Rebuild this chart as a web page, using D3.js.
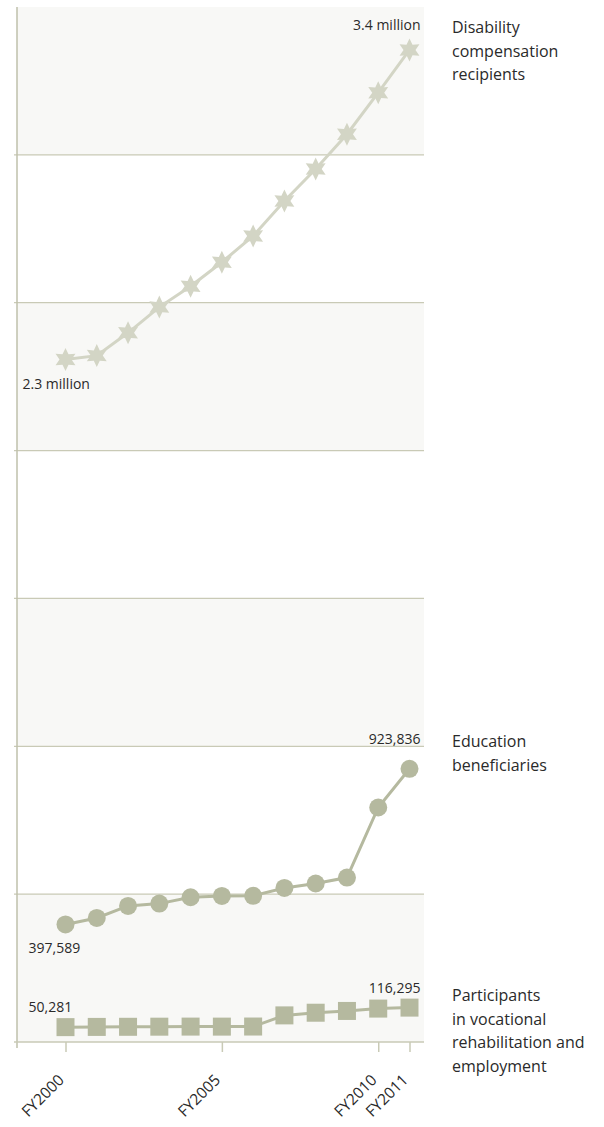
<!DOCTYPE html>
<html>
<head>
<meta charset="utf-8">
<script src="https://cdn.jsdelivr.net/npm/d3@7"></script>
<style>
  body { margin: 0; background: #fff; }
  text { font-family: 'Open Sans', sans-serif; fill: #2a2a2a; }
</style>
</head>
<body>
<div id="chart"></div>
<script>
var years = [2000, 2001, 2002, 2003, 2004, 2005, 2006, 2007, 2008, 2009, 2010, 2011]
var tickYears = [2000, 2005, 2010, 2011]

var compensation = [2308186, 2321103, 2398287, 2485229, 2555696, 2636979, 2725824, 2844178, 2952285, 3069652, 3210261, 3354741]
var education = [397589, 419500, 460000, 468000, 489500, 494000, 494500, 521000, 536000, 556000, 793000, 923836]
var vocational = [50281, 51000, 51400, 51800, 52100, 52000, 52300, 90000, 99000, 105000, 113000, 116295]

var gridValues = [500000, 1000000, 1500000, 2000000, 2500000, 3000000]
var bandStarts = [0, 1000000, 2000000, 3000000]

var margin = { top: 7, left: 17, right: 180, bottom: 85 }
var width = 604 - margin.left - margin.right
var height = 1127 - margin.top - margin.bottom

var svg = d3
  .select('#chart')
  .append('svg')
  .attr('width', width + margin.left + margin.right)
  .attr('height', height + margin.top + margin.bottom)
  .append('g')
  .attr('transform', 'translate(' + margin.left + ',' + margin.top + ')')

var xScale = d3.scaleLinear().domain([2000, 2011]).range([48.5, 392.5])
var yScale = d3.scaleLinear().domain([0, 3500000]).range([height, 0])

var gridColor = '#c9cab6'
var lightColor = '#d3d5c5'
var darkColor = '#b5b99f'

// shaded bands
svg
  .selectAll('.band')
  .data(bandStarts)
  .enter()
  .append('rect')
  .attr('class', 'band')
  .attr('x', 0)
  .attr('width', width)
  .attr('y', d => yScale(d + 500000))
  .attr('height', d => yScale(d) - yScale(d + 500000))
  .attr('fill', '#f8f8f6')

// gridlines
svg
  .selectAll('.grid')
  .data(gridValues)
  .enter()
  .append('line')
  .attr('class', 'grid')
  .attr('x1', -3)
  .attr('x2', width)
  .attr('y1', d => yScale(d))
  .attr('y2', d => yScale(d))
  .attr('stroke', gridColor)
  .attr('stroke-width', 1.2)

// axes
svg
  .append('line')
  .attr('x1', 0)
  .attr('x2', 0)
  .attr('y1', 0)
  .attr('y2', height + 6)
  .attr('stroke', '#bfc1ab')
  .attr('stroke-width', 1.5)

svg
  .append('line')
  .attr('x1', -3)
  .attr('x2', width)
  .attr('y1', height)
  .attr('y2', height)
  .attr('stroke', gridColor)
  .attr('stroke-width', 1.5)

var xAxis = d3
  .axisBottom(xScale)
  .tickValues(tickYears)
  .tickSize(10)
  .tickFormat(d => 'FY' + d)

var xg = svg
  .append('g')
  .attr('transform', 'translate(0,' + height + ')')
  .call(xAxis)

xg.select('.domain').remove()
xg.selectAll('.tick line').attr('stroke', gridColor).attr('stroke-width', 1.5)
xg
  .selectAll('.tick text')
  .attr('font-size', 15.5)
  .attr('fill', '#2a2a2a')
  .attr('text-anchor', 'end')
  .attr('dy', 0)
  .attr('y', 0)
  .attr('transform', 'translate(-1,39) rotate(-45)')

// lines
function makeLine(values) {
  return d3
    .line()
    .x((d, i) => xScale(years[i]))
    .y(d => yScale(d))(values)
}

svg
  .append('path')
  .attr('d', makeLine(compensation))
  .attr('fill', 'none')
  .attr('stroke', lightColor)
  .attr('stroke-width', 3)

svg
  .append('path')
  .attr('d', makeLine(education))
  .attr('fill', 'none')
  .attr('stroke', darkColor)
  .attr('stroke-width', 3)

svg
  .append('path')
  .attr('d', makeLine(vocational))
  .attr('fill', 'none')
  .attr('stroke', darkColor)
  .attr('stroke-width', 3)

// six pointed star
function starPath(outer, inner) {
  var pts = []
  for (var k = 0; k < 12; k++) {
    var a = -Math.PI / 2 + (k * Math.PI) / 6
    var r = k % 2 === 0 ? outer : inner
    pts.push([Math.cos(a) * r, Math.sin(a) * r])
  }
  return 'M' + pts.map(p => p[0].toFixed(2) + ',' + p[1].toFixed(2)).join('L') + 'Z'
}

svg
  .selectAll('.star')
  .data(compensation)
  .enter()
  .append('path')
  .attr('class', 'star')
  .attr('d', starPath(11.5, 6))
  .attr('transform', (d, i) => 'translate(' + xScale(years[i]) + ',' + yScale(d) + ')')
  .attr('fill', lightColor)

svg
  .selectAll('.dot')
  .data(education)
  .enter()
  .append('circle')
  .attr('class', 'dot')
  .attr('cx', (d, i) => xScale(years[i]))
  .attr('cy', d => yScale(d))
  .attr('r', 9)
  .attr('fill', darkColor)

svg
  .selectAll('.sq')
  .data(vocational)
  .enter()
  .append('rect')
  .attr('class', 'sq')
  .attr('x', (d, i) => xScale(years[i]) - 9)
  .attr('y', d => yScale(d) - 9)
  .attr('width', 18)
  .attr('height', 18)
  .attr('fill', darkColor)

// value labels
var valueLabels = [
  { text: '3.4 million', year: 2011, value: compensation[11], dx: 11, dy: -20, anchor: 'end' },
  { text: '2.3 million', year: 2000, value: compensation[0], dx: -43, dy: 30, anchor: 'start' },
  { text: '923,836', year: 2011, value: education[11], dx: 11, dy: -25, anchor: 'end' },
  { text: '397,589', year: 2000, value: education[0], dx: -37, dy: 29, anchor: 'start' },
  { text: '116,295', year: 2011, value: vocational[11], dx: 11, dy: -15, anchor: 'end' },
  { text: '50,281', year: 2000, value: vocational[0], dx: -37, dy: -15, anchor: 'start' }
]

svg
  .selectAll('.val')
  .data(valueLabels)
  .enter()
  .append('text')
  .attr('class', 'val')
  .attr('x', d => xScale(d.year) + d.dx)
  .attr('y', d => yScale(d.value) + d.dy)
  .attr('text-anchor', d => d.anchor)
  .attr('font-size', 14)
  .text(d => d.text)

// series names on the right
var seriesNames = [
  { lines: ['Disability', 'compensation', 'recipients'], y: 26 },
  { lines: ['Education', 'beneficiaries'], y: 740 },
  { lines: ['Participants', 'in vocational', 'rehabilitation and', 'employment'], y: 994 }
]

seriesNames.forEach(s => {
  var t = svg
    .append('text')
    .attr('x', 452 - margin.left)
    .attr('y', s.y)
    .attr('font-size', 16)
  s.lines.forEach((l, i) => {
    t.append('tspan')
      .attr('x', 452 - margin.left)
      .attr('dy', i === 0 ? 0 : 23.5)
      .text(l)
  })
})
</script>
</body>
</html>
